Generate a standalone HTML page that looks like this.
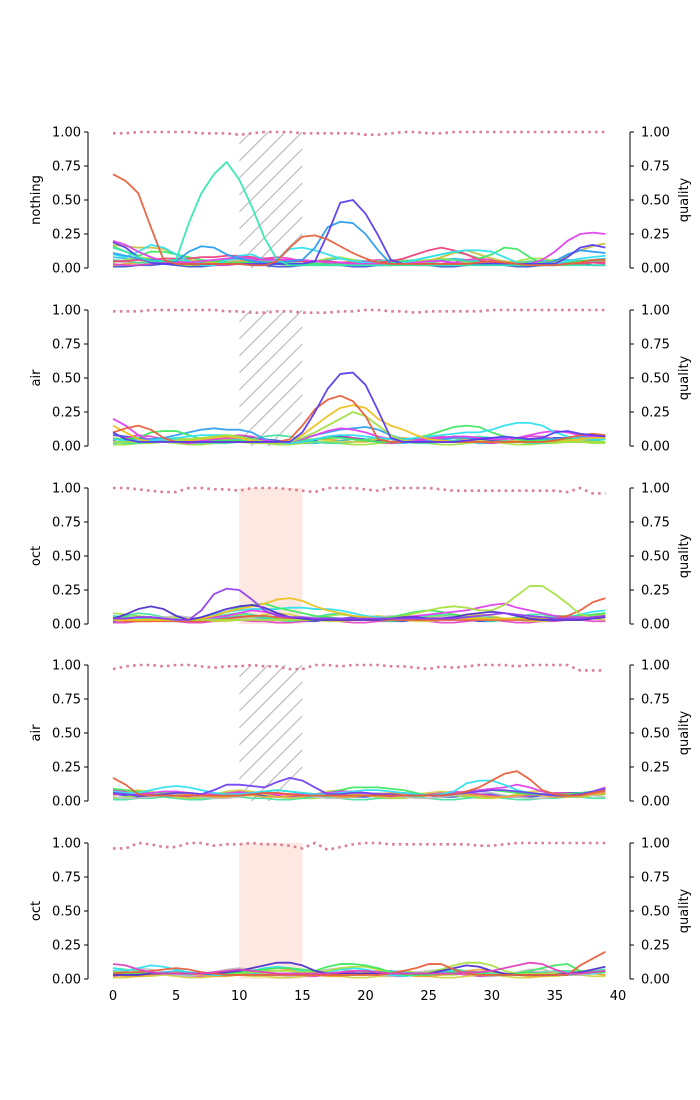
<!DOCTYPE html>
<html><head><meta charset="utf-8">
<style>
html,body{margin:0;padding:0;background:#fff;}
svg{display:block;font-family:"DejaVu Sans","Liberation Sans",sans-serif;}
</style></head>
<body>
<svg id="chart" width="700" height="1100" viewBox="0 0 700 1100" xmlns="http://www.w3.org/2000/svg">
<defs id="defs"></defs>
</svg>
<script>
// ---------- data ----------
const panelLabels = ["nothing","air","oct","air","oct"];
const regionStart = 10, regionEnd = 15;
const regionTypes = ["hatch","hatch","shade","hatch","shade"];
const xTicks = [0,5,10,15,20,25,30,35,40];
const yTicks = [0,0.25,0.5,0.75,1.0];
const yTickLabels = ["0.00","0.25","0.50","0.75","1.00"];

const quality1 = [0.99,0.99,1,1,1,1,1,0.99,0.99,0.99,0.98,0.99,1,1,1,0.99,0.99,0.99,0.99,0.99,0.98,0.98,0.99,1,1,0.99,0.99,1,1,1,1,1,1,1,1,1,1,1,1,1];
const quality2 = [0.99,0.99,0.99,1,1,1,1,1,1,0.99,0.99,0.98,0.98,0.99,0.99,0.98,0.98,0.98,0.99,0.99,1,1,0.99,0.99,0.98,0.99,0.99,0.99,0.99,0.99,1,1,1,1,1,1,1,1,1,1];
const quality3 = [1,1,0.99,0.98,0.97,0.97,1,1,0.99,0.99,0.98,1,1,1,0.99,0.98,0.97,1,1,1,0.99,0.98,1,1,1,1,0.99,0.98,0.98,0.98,0.98,0.98,0.98,0.98,0.98,0.98,0.97,1,0.96,0.96];
const quality4 = [0.97,0.99,1,1,0.99,1,1,0.99,0.98,0.99,0.99,1,0.99,0.99,0.97,0.97,1,1,0.99,1,1,1,0.99,0.99,0.98,0.97,0.99,0.98,0.99,1,1,1,0.99,1,1,1,1,0.96,0.96,0.96];
const quality5 = [0.96,0.96,1,0.99,0.97,0.97,1,1,0.98,0.99,0.99,1,0.99,0.99,0.98,0.96,1,0.95,0.97,0.99,1,1,0.99,0.99,0.99,0.99,0.99,0.99,0.99,0.98,0.98,0.99,1,1,1,1,1,1,1,1];

const bg1 = [0.05,0.04,0.03,0.04,0.05,0.04,0.03,0.03,0.04,0.05,0.06,0.05,0.04,0.03,0.03,0.04,0.05,0.05,0.04,0.03,0.03,0.04,0.05,0.06,0.05,0.04,0.03,0.03,0.04,0.05,0.05,0.04,0.03,0.03,0.04,0.05,0.06,0.06,0.05,0.05];
const bg2 = [0.02,0.03,0.04,0.05,0.04,0.03,0.02,0.02,0.03,0.04,0.05,0.06,0.05,0.04,0.03,0.02,0.02,0.03,0.04,0.05,0.04,0.03,0.02,0.02,0.03,0.04,0.05,0.04,0.03,0.02,0.02,0.03,0.04,0.05,0.05,0.04,0.03,0.03,0.04,0.05];
const bg3 = [0.08,0.07,0.06,0.05,0.04,0.03,0.03,0.04,0.05,0.06,0.07,0.06,0.05,0.04,0.03,0.03,0.04,0.06,0.07,0.06,0.05,0.04,0.03,0.03,0.04,0.05,0.06,0.07,0.06,0.05,0.04,0.03,0.03,0.04,0.05,0.06,0.06,0.05,0.06,0.07];
const bg4 = [0.01,0.01,0.02,0.02,0.03,0.02,0.01,0.01,0.02,0.03,0.03,0.02,0.02,0.01,0.01,0.02,0.03,0.03,0.02,0.01,0.01,0.02,0.02,0.03,0.03,0.02,0.01,0.01,0.02,0.03,0.03,0.02,0.01,0.01,0.02,0.02,0.03,0.03,0.02,0.02];
const bg5 = [0.04,0.06,0.08,0.07,0.05,0.03,0.02,0.03,0.05,0.07,0.08,0.07,0.05,0.03,0.02,0.03,0.05,0.07,0.08,0.06,0.04,0.03,0.02,0.03,0.05,0.06,0.07,0.06,0.04,0.03,0.02,0.03,0.05,0.07,0.07,0.05,0.04,0.03,0.04,0.06];
const bg6 = [0.03,0.02,0.02,0.03,0.04,0.05,0.04,0.03,0.02,0.02,0.03,0.05,0.07,0.08,0.07,0.05,0.03,0.02,0.02,0.03,0.05,0.06,0.05,0.03,0.02,0.02,0.03,0.04,0.06,0.07,0.06,0.04,0.03,0.02,0.02,0.03,0.04,0.05,0.04,0.03];
const bg7 = [0.06,0.05,0.04,0.04,0.05,0.06,0.05,0.04,0.03,0.03,0.04,0.04,0.03,0.03,0.04,0.05,0.05,0.04,0.03,0.03,0.04,0.05,0.06,0.05,0.04,0.04,0.05,0.06,0.05,0.04,0.03,0.03,0.04,0.05,0.04,0.03,0.03,0.04,0.05,0.06];
const bgColors = ["#c0c0c0","#f0a030","#30c0e0","#3050d0","#a0e040","#e040c0","#40e0a0","#d0d040"];

const p1_orange = [0.69,0.64,0.55,0.30,0.06,0.03,0.03,0.03,0.03,0.03,0.03,0.02,0.02,0.05,0.15,0.23,0.24,0.21,0.16,0.11,0.07,0.04,0.03,0.03,0.03,0.03,0.03,0.03,0.03,0.04,0.05,0.04,0.03,0.02,0.02,0.02,0.03,0.04,0.06,0.06];
const p1_teal = [0.15,0.12,0.08,0.05,0.05,0.06,0.33,0.55,0.69,0.78,0.65,0.45,0.22,0.06,0.02,0.02,0.02,0.02,0.02,0.02,0.02,0.02,0.02,0.02,0.02,0.02,0.02,0.02,0.02,0.02,0.02,0.02,0.02,0.02,0.02,0.02,0.02,0.02,0.02,0.02];
const p1_violet = [0.19,0.15,0.08,0.04,0.03,0.03,0.03,0.03,0.03,0.03,0.03,0.03,0.03,0.03,0.03,0.03,0.05,0.25,0.48,0.50,0.40,0.24,0.06,0.03,0.03,0.03,0.03,0.03,0.03,0.03,0.03,0.03,0.03,0.03,0.03,0.03,0.08,0.15,0.17,0.15];
const p1_blue = [0.11,0.09,0.07,0.06,0.05,0.05,0.12,0.16,0.15,0.10,0.07,0.05,0.04,0.04,0.05,0.06,0.15,0.30,0.34,0.33,0.25,0.13,0.03,0.03,0.03,0.03,0.03,0.03,0.03,0.03,0.03,0.03,0.03,0.03,0.03,0.05,0.10,0.13,0.12,0.11];
const p1_magenta = [0.20,0.17,0.12,0.08,0.05,0.04,0.04,0.05,0.06,0.07,0.08,0.07,0.06,0.06,0.06,0.06,0.05,0.04,0.04,0.03,0.03,0.03,0.03,0.03,0.04,0.05,0.05,0.04,0.03,0.03,0.03,0.03,0.03,0.03,0.06,0.12,0.20,0.25,0.26,0.25];
const p1_green = [0.16,0.12,0.09,0.12,0.12,0.10,0.08,0.06,0.05,0.04,0.04,0.04,0.03,0.03,0.03,0.03,0.03,0.03,0.03,0.03,0.03,0.03,0.04,0.05,0.06,0.08,0.10,0.12,0.10,0.07,0.10,0.15,0.14,0.08,0.03,0.03,0.04,0.05,0.06,0.06];
const p1_cyan = [0.10,0.08,0.12,0.17,0.15,0.10,0.05,0.02,0.02,0.06,0.09,0.10,0.06,0.06,0.14,0.15,0.13,0.10,0.07,0.05,0.04,0.03,0.03,0.04,0.06,0.08,0.10,0.12,0.13,0.13,0.12,0.08,0.04,0.02,0.02,0.03,0.05,0.07,0.08,0.09];
const p1_pink = [0.05,0.05,0.06,0.06,0.07,0.07,0.07,0.08,0.08,0.09,0.09,0.08,0.07,0.06,0.05,0.05,0.05,0.05,0.04,0.04,0.04,0.04,0.05,0.07,0.10,0.13,0.15,0.13,0.10,0.06,0.04,0.04,0.03,0.03,0.03,0.03,0.03,0.03,0.04,0.04];
const p1_olive = [0.17,0.16,0.15,0.15,0.14,0.10,0.06,0.05,0.04,0.04,0.04,0.04,0.03,0.03,0.03,0.03,0.03,0.03,0.03,0.03,0.03,0.03,0.03,0.03,0.03,0.05,0.08,0.11,0.13,0.10,0.07,0.05,0.04,0.03,0.03,0.05,0.09,0.13,0.16,0.18];

const p2_violet = [0.10,0.05,0.03,0.03,0.03,0.03,0.03,0.03,0.03,0.03,0.03,0.03,0.03,0.03,0.03,0.10,0.25,0.42,0.53,0.54,0.45,0.26,0.06,0.03,0.03,0.03,0.03,0.03,0.04,0.05,0.06,0.07,0.06,0.05,0.06,0.10,0.11,0.09,0.08,0.07];
const p2_orange = [0.10,0.13,0.15,0.12,0.06,0.03,0.03,0.03,0.03,0.03,0.03,0.03,0.03,0.03,0.05,0.15,0.27,0.34,0.37,0.33,0.22,0.05,0.03,0.03,0.03,0.03,0.03,0.03,0.03,0.03,0.03,0.03,0.03,0.03,0.03,0.04,0.06,0.08,0.09,0.08];
const p2_lime = [0.03,0.03,0.03,0.03,0.03,0.04,0.05,0.06,0.07,0.08,0.07,0.05,0.03,0.02,0.03,0.06,0.10,0.15,0.20,0.25,0.22,0.15,0.08,0.04,0.03,0.03,0.03,0.03,0.03,0.03,0.03,0.03,0.03,0.03,0.03,0.03,0.03,0.03,0.03,0.03];
const p2_amber = [0.15,0.10,0.05,0.03,0.03,0.03,0.04,0.05,0.06,0.07,0.06,0.04,0.03,0.02,0.03,0.08,0.15,0.22,0.28,0.30,0.28,0.20,0.15,0.12,0.08,0.05,0.04,0.03,0.03,0.03,0.03,0.03,0.03,0.03,0.03,0.03,0.04,0.05,0.06,0.06];
const p2_cyan = [0.05,0.04,0.04,0.04,0.05,0.06,0.07,0.08,0.08,0.08,0.07,0.05,0.03,0.02,0.02,0.03,0.05,0.07,0.08,0.08,0.07,0.06,0.05,0.05,0.06,0.07,0.08,0.09,0.10,0.10,0.12,0.15,0.17,0.17,0.15,0.10,0.07,0.05,0.05,0.05];
const p2_green = [0.05,0.05,0.06,0.10,0.11,0.11,0.08,0.05,0.04,0.04,0.04,0.03,0.03,0.03,0.03,0.04,0.05,0.06,0.06,0.05,0.04,0.03,0.03,0.04,0.06,0.08,0.11,0.14,0.15,0.14,0.10,0.07,0.05,0.04,0.04,0.04,0.05,0.05,0.05,0.05];
const p2_magenta = [0.20,0.15,0.08,0.04,0.03,0.03,0.03,0.04,0.05,0.06,0.06,0.05,0.04,0.03,0.03,0.05,0.08,0.11,0.13,0.12,0.10,0.07,0.05,0.04,0.04,0.05,0.06,0.07,0.07,0.06,0.05,0.05,0.06,0.08,0.10,0.11,0.10,0.08,0.07,0.06];
const p2_sky = [0.05,0.05,0.05,0.05,0.06,0.08,0.10,0.12,0.13,0.12,0.12,0.10,0.05,0.03,0.03,0.05,0.08,0.10,0.12,0.13,0.14,0.12,0.08,0.05,0.04,0.04,0.05,0.06,0.06,0.06,0.06,0.06,0.05,0.05,0.05,0.05,0.06,0.07,0.07,0.06];

const p3_purple = [0.04,0.04,0.05,0.05,0.04,0.03,0.03,0.10,0.22,0.26,0.25,0.18,0.10,0.06,0.05,0.05,0.04,0.04,0.04,0.04,0.04,0.04,0.04,0.04,0.04,0.04,0.04,0.04,0.05,0.06,0.07,0.08,0.07,0.06,0.05,0.04,0.04,0.04,0.05,0.06];
const p3_indigo = [0.04,0.07,0.11,0.13,0.11,0.06,0.03,0.05,0.08,0.11,0.13,0.14,0.12,0.08,0.05,0.04,0.03,0.03,0.03,0.03,0.03,0.03,0.04,0.05,0.05,0.04,0.04,0.05,0.07,0.08,0.09,0.08,0.06,0.04,0.03,0.03,0.03,0.03,0.04,0.05];
const p3_amber = [0.03,0.03,0.03,0.03,0.03,0.03,0.03,0.04,0.06,0.09,0.11,0.13,0.15,0.18,0.19,0.17,0.13,0.10,0.08,0.06,0.05,0.04,0.04,0.04,0.04,0.04,0.04,0.04,0.04,0.04,0.04,0.04,0.04,0.04,0.04,0.04,0.04,0.04,0.05,0.06];
const p3_lime = [0.03,0.03,0.03,0.03,0.03,0.03,0.03,0.03,0.03,0.03,0.03,0.03,0.03,0.03,0.03,0.03,0.03,0.03,0.03,0.03,0.03,0.03,0.04,0.06,0.08,0.10,0.12,0.13,0.12,0.10,0.10,0.14,0.21,0.28,0.28,0.22,0.15,0.07,0.05,0.05];
const p3_orange = [0.03,0.02,0.02,0.02,0.02,0.02,0.02,0.02,0.03,0.04,0.05,0.06,0.06,0.05,0.04,0.03,0.03,0.03,0.03,0.03,0.03,0.03,0.03,0.03,0.03,0.03,0.03,0.03,0.03,0.03,0.03,0.03,0.03,0.03,0.03,0.04,0.06,0.10,0.16,0.19];
const p3_magenta = [0.04,0.04,0.05,0.05,0.04,0.03,0.03,0.04,0.05,0.06,0.08,0.10,0.09,0.07,0.05,0.04,0.04,0.04,0.04,0.04,0.03,0.03,0.04,0.05,0.06,0.07,0.08,0.09,0.10,0.12,0.14,0.15,0.12,0.10,0.08,0.06,0.05,0.05,0.05,0.06];
const p3_green = [0.05,0.05,0.05,0.04,0.03,0.03,0.03,0.04,0.06,0.09,0.12,0.14,0.15,0.12,0.10,0.08,0.06,0.05,0.04,0.04,0.04,0.04,0.05,0.07,0.09,0.10,0.09,0.07,0.05,0.04,0.04,0.04,0.04,0.04,0.04,0.04,0.05,0.06,0.07,0.08];
const p3_cyan = [0.06,0.05,0.04,0.03,0.02,0.02,0.03,0.05,0.07,0.09,0.10,0.11,0.11,0.11,0.12,0.12,0.11,0.11,0.10,0.08,0.06,0.05,0.04,0.04,0.04,0.04,0.04,0.04,0.04,0.04,0.04,0.04,0.03,0.03,0.03,0.03,0.05,0.07,0.09,0.10];

const p4_orange = [0.17,0.12,0.05,0.04,0.04,0.04,0.04,0.04,0.04,0.04,0.04,0.05,0.06,0.06,0.05,0.04,0.04,0.04,0.04,0.04,0.04,0.04,0.04,0.04,0.04,0.04,0.04,0.05,0.07,0.10,0.15,0.20,0.22,0.16,0.08,0.05,0.04,0.04,0.06,0.08];
const p4_violet = [0.06,0.05,0.04,0.04,0.05,0.06,0.06,0.05,0.08,0.12,0.12,0.11,0.10,0.14,0.17,0.15,0.10,0.05,0.05,0.06,0.06,0.05,0.05,0.04,0.04,0.04,0.04,0.05,0.06,0.07,0.08,0.08,0.07,0.06,0.05,0.04,0.04,0.05,0.07,0.09];
const p4_cyan = [0.07,0.06,0.06,0.08,0.10,0.11,0.10,0.08,0.06,0.05,0.05,0.06,0.07,0.08,0.07,0.06,0.05,0.05,0.06,0.07,0.08,0.08,0.07,0.06,0.05,0.04,0.05,0.07,0.13,0.15,0.15,0.12,0.08,0.06,0.05,0.04,0.04,0.05,0.07,0.09];
const p4_magenta = [0.05,0.05,0.05,0.06,0.07,0.07,0.06,0.05,0.05,0.05,0.06,0.06,0.06,0.05,0.05,0.05,0.05,0.06,0.07,0.07,0.06,0.05,0.04,0.04,0.04,0.04,0.05,0.06,0.07,0.08,0.09,0.10,0.12,0.10,0.07,0.05,0.04,0.05,0.07,0.10];
const p4_green = [0.09,0.08,0.07,0.06,0.06,0.06,0.06,0.05,0.05,0.05,0.05,0.06,0.07,0.08,0.07,0.06,0.05,0.06,0.08,0.10,0.10,0.10,0.09,0.08,0.06,0.04,0.04,0.05,0.07,0.08,0.08,0.07,0.06,0.05,0.05,0.05,0.05,0.06,0.07,0.08];

const p5_magenta = [0.11,0.10,0.07,0.05,0.04,0.04,0.04,0.04,0.05,0.06,0.07,0.06,0.05,0.04,0.04,0.04,0.04,0.04,0.05,0.06,0.06,0.05,0.04,0.04,0.04,0.04,0.04,0.04,0.05,0.05,0.06,0.08,0.10,0.12,0.11,0.07,0.04,0.04,0.05,0.06];
const p5_orange = [0.04,0.05,0.05,0.06,0.07,0.08,0.07,0.05,0.04,0.03,0.03,0.03,0.03,0.03,0.03,0.03,0.03,0.03,0.03,0.03,0.03,0.03,0.04,0.06,0.08,0.11,0.11,0.07,0.04,0.03,0.03,0.03,0.03,0.03,0.03,0.03,0.03,0.10,0.15,0.20];
const p5_indigo = [0.03,0.03,0.03,0.04,0.04,0.04,0.04,0.04,0.04,0.05,0.06,0.08,0.10,0.12,0.12,0.10,0.06,0.04,0.04,0.04,0.04,0.04,0.04,0.04,0.04,0.04,0.06,0.08,0.10,0.09,0.06,0.04,0.03,0.03,0.03,0.03,0.04,0.05,0.07,0.09];
const p5_green = [0.04,0.04,0.04,0.04,0.04,0.04,0.04,0.04,0.04,0.04,0.05,0.06,0.07,0.08,0.08,0.07,0.06,0.09,0.11,0.11,0.10,0.08,0.05,0.03,0.03,0.03,0.04,0.05,0.05,0.04,0.03,0.03,0.04,0.06,0.08,0.10,0.11,0.06,0.05,0.05];
const p5_lime = [0.05,0.05,0.04,0.04,0.04,0.04,0.04,0.04,0.04,0.04,0.04,0.05,0.06,0.06,0.06,0.05,0.05,0.06,0.08,0.09,0.09,0.07,0.05,0.04,0.04,0.05,0.07,0.10,0.12,0.12,0.10,0.06,0.04,0.04,0.04,0.04,0.04,0.04,0.05,0.05];
const p5_cyan = [0.08,0.06,0.08,0.10,0.09,0.07,0.05,0.04,0.03,0.03,0.04,0.06,0.08,0.09,0.08,0.06,0.04,0.05,0.07,0.08,0.07,0.05,0.03,0.02,0.03,0.05,0.07,0.06,0.05,0.04,0.03,0.03,0.03,0.03,0.03,0.04,0.05,0.04,0.04,0.05];

const bgSeries = [bg1,bg2,bg3,bg4,bg5,bg6,bg7];
const panelSeries = [
  [[p1_olive,"#c8c040"],[p1_green,"#40e860"],[p1_pink,"#f04080"],[p1_cyan,"#30e0f0"],[p1_magenta,"#e040f0"],[p1_blue,"#2a9df0"],[p1_violet,"#5b3bf0"],[p1_teal,"#33e8b0"],[p1_orange,"#e8603c"]],
  [[p2_sky,"#30a0f0"],[p2_green,"#40e860"],[p2_magenta,"#e040f0"],[p2_cyan,"#30e0f0"],[p2_amber,"#f0c020"],[p2_lime,"#a0e040"],[p2_orange,"#e8603c"],[p2_violet,"#5b3bf0"]],
  [[p3_cyan,"#30e0f0"],[p3_green,"#40e860"],[p3_magenta,"#e040f0"],[p3_orange,"#e8603c"],[p3_lime,"#a8e040"],[p3_amber,"#f0c020"],[p3_indigo,"#5030d0"],[p3_purple,"#9040f0"]],
  [[p4_green,"#40e860"],[p4_magenta,"#e040f0"],[p4_cyan,"#30e0f0"],[p4_violet,"#7040f0"],[p4_orange,"#e8603c"]],
  [[p5_cyan,"#30e0f0"],[p5_lime,"#a8e040"],[p5_green,"#40e860"],[p5_indigo,"#5030d0"],[p5_orange,"#e8603c"],[p5_magenta,"#e040c0"]]
];
const qualitySeries = [quality1,quality2,quality3,quality4,quality5];

// ---------- drawing ----------
const svg = document.getElementById('chart');
const defs = document.getElementById('defs');
const NS = "http://www.w3.org/2000/svg";
const bottoms = [268,446,624,801,979];
const H = 136;
function xs(v){ return 113 + v*12.625; }
function ys(p,v){ return bottoms[p] - v*H; }
function mk(tag, attrs, parent){
  const e = document.createElementNS(NS, tag);
  for (const k in attrs) e.setAttribute(k, attrs[k]);
  (parent||svg).appendChild(e);
  return e;
}
function pathFor(p, arr){
  return arr.map((v,i)=>(i?'L':'M')+xs(i).toFixed(2)+','+ys(p,v).toFixed(2)).join(' ');
}

for (let p=0; p<5; p++){
  const g = mk('g', {});
  
  
  const top = ys(p,1), bot = ys(p,0);
  const rx0 = xs(regionStart), rx1 = xs(regionEnd);
  if (regionTypes[p] === 'shade'){
    const r = mk('rect', {x:rx0, y:top, width:rx1-rx0, height:bot-top, fill:'#fde9e1'}, g);
    
    
  } else {
    const cp = mk('clipPath', {id:'hclip'+p}, defs);
    mk('rect', {x:rx0, y:top, width:rx1-rx0, height:bot-top}, cp);
    const hg = mk('g', {stroke:'#bdbdbd', 'stroke-width':1.2, 'clip-path':'url(#hclip'+p+')'}, g);
    
    
    const w = rx1-rx0;
    for (let k=-5; k<10; k++){
      const yL = top + 12 + k*17;
      mk('line', {x1:rx0, y1:yL, x2:rx1, y2:yL - w}, hg);
    }
  }
  bgSeries.forEach((arr,i)=>{
    const l = mk('path', {d:pathFor(p,arr), fill:'none', stroke:bgColors[(i+p)%bgColors.length], 'stroke-width':1.7, 'stroke-linejoin':'round', opacity:0.9}, g);
    
    
  });
  panelSeries[p].forEach(([arr,c])=>{
    const l = mk('path', {d:pathFor(p,arr), fill:'none', stroke:c, 'stroke-width':1.8, 'stroke-linejoin':'round', opacity:0.95}, g);
    
    
  });
  const q = mk('path', {d:pathFor(p,qualitySeries[p]), fill:'none', stroke:'#dc7f92', 'stroke-width':2.6, 'stroke-dasharray':'2.6,4.2'}, g);
  
  
  const la = mk('g', {}, g);
  
  
  mk('line', {x1:88, y1:top, x2:88, y2:bot, stroke:'#000', 'stroke-width':1}, la);
  const ra = mk('g', {}, g);
  
  
  mk('line', {x1:630, y1:top, x2:630, y2:bot, stroke:'#000', 'stroke-width':1}, ra);
  yTicks.forEach((t,i)=>{
    const y = ys(p,t);
    mk('line', {x1:84, y1:y, x2:88, y2:y, stroke:'#000'}, la);
    const tl = mk('text', {x:81, y:y+4.5, 'text-anchor':'end', 'font-size':13, fill:'#000'}, la);
    tl.textContent = yTickLabels[i];
    
    
    mk('line', {x1:630, y1:y, x2:634, y2:y, stroke:'#000'}, ra);
    const tr = mk('text', {x:641, y:y+4.5, 'text-anchor':'start', 'font-size':13, fill:'#000'}, ra);
    tr.textContent = yTickLabels[i];
    
    
  });
  const cy = (top+bot)/2;
  const lt = mk('text', {x:0, y:0, transform:'translate(40,'+cy+') rotate(-90)', 'text-anchor':'middle', 'font-size':13, fill:'#000'}, g);
  lt.textContent = panelLabels[p];
  
  
  const rt = mk('text', {x:0, y:0, transform:'translate(688,'+cy+') rotate(-90)', 'text-anchor':'middle', 'font-size':13, fill:'#000'}, g);
  rt.textContent = 'quality';
  
  
}
const xg = mk('g', {});


xTicks.forEach(t=>{
  const tx = mk('text', {x:xs(t), y:1000, 'text-anchor':'middle', 'font-size':13, fill:'#000'}, xg);
  tx.textContent = t;
  
  
});
</script>
</body></html>
